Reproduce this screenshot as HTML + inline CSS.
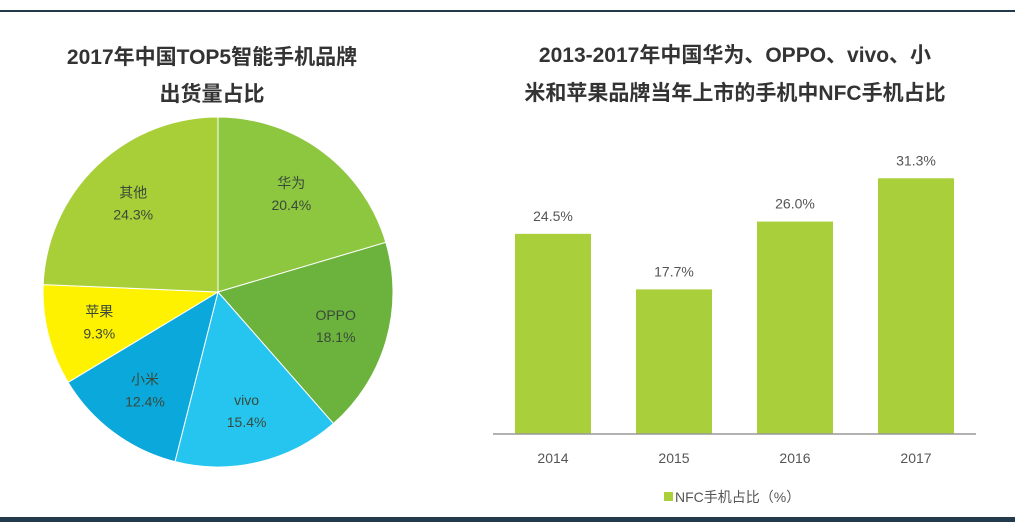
<!DOCTYPE html>
<html><head><meta charset="utf-8">
<style>
body{margin:0;background:#fff;width:1015px;height:522px;overflow:hidden;font-family:"Liberation Sans","Noto Sans CJK SC",sans-serif;}
svg{display:block}
</style></head>
<body>
<svg width="1015" height="522">
<rect x="0" y="10" width="1015" height="2" fill="#23394c"/>
<rect x="0" y="517" width="1015" height="5" fill="#23394c"/>
<g font-weight="bold" font-size="21" fill="#333" text-anchor="middle">
<text x="212" y="64">2017年中国TOP5智能手机品牌</text>
<text x="212" y="101">出货量占比</text>
</g>
<g font-weight="bold" font-size="21" fill="#333" text-anchor="middle">
<text x="735" y="62">2013-2017年中国华为、OPPO、vivo、小</text>
<text x="735" y="100">米和苹果品牌当年上市的手机中NFC手机占比</text>
</g>
<g id="pie"></g>
<g id="bars"></g>
</svg>
<script>
const pieLabels=["华为","OPPO","vivo","小米","苹果","其他"];
const pieValues=[20.4,18.1,15.4,12.4,9.3,24.3];
const pieColors=["#8dc63f","#6bb33c","#25c5f0","#0ba8dc","#fff200","#a8cf38"];
const years=["2014","2015","2016","2017"];
const nfcValues=[24.5,17.7,26.0,31.3];
const NS="http://www.w3.org/2000/svg";
function mk(t,a,p){const e=document.createElementNS(NS,t);for(const k in a)e.setAttribute(k,a[k]);p.appendChild(e);return e;}
// pie
const pie=document.getElementById('pie');
const cx=218,cy=292,r=175;
const total=pieValues.reduce((a,b)=>a+b,0);
let ang=0;
pieValues.forEach((v,i)=>{
  const a0=ang/total*2*Math.PI, a1=(ang+v)/total*2*Math.PI; ang+=v;
  const x0=cx+r*Math.sin(a0),y0=cy-r*Math.cos(a0),x1=cx+r*Math.sin(a1),y1=cy-r*Math.cos(a1);
  const p=mk('path',{d:`M${cx},${cy}L${x0},${y0}A${r},${r} 0 ${(a1-a0)>Math.PI?1:0} 1 ${x1},${y1}Z`,fill:pieColors[i],stroke:'#fff','stroke-width':1},pie);
  
  
  const am=(a0+a1)/2, lr=r*0.7;
  const lx=cx+lr*Math.sin(am), ly=cy-lr*Math.cos(am);
  const t1=mk('text',{x:lx,y:ly-6,'text-anchor':'middle','font-size':14,fill:'#3a4a3a'},pie);
  t1.textContent=pieLabels[i];
  
  
  const t2=mk('text',{x:lx,y:ly+16,'text-anchor':'middle','font-size':14,fill:'#3a4a3a'},pie);
  t2.textContent=v.toFixed(1)+'%';
  
  
});
// bars
const bars=document.getElementById('bars');
const baseY=434, scale=8.17, x0b=553, step=121, bw=76;
const xPos=i=>x0b+i*step, yPos=v=>baseY-v*scale;
years.forEach((y,i)=>{
  const v=nfcValues[i];
  const b=mk('rect',{x:xPos(i)-bw/2,y:yPos(v),width:bw,height:baseY-yPos(v),fill:'#a9d03a'},bars);
  
  
  const t=mk('text',{x:xPos(i),y:yPos(v)-13,'text-anchor':'middle','font-size':14,fill:'#555'},bars);
  t.textContent=v.toFixed(1)+'%';
  
  
  const yl=mk('text',{x:xPos(i),y:463,'text-anchor':'middle','font-size':14,fill:'#555'},bars);
  yl.textContent=y;
  
  
});
const ax=mk('line',{x1:493,y1:baseY,x2:976,y2:baseY,stroke:'#999','stroke-width':1.5},bars);


const ls=mk('rect',{x:664,y:492,width:9,height:9,fill:'#a9d03a'},bars);


const lt=mk('text',{x:675,y:502,'font-size':14,fill:'#555'},bars);
lt.textContent='NFC手机占比（%）';


</script>
</body></html>
